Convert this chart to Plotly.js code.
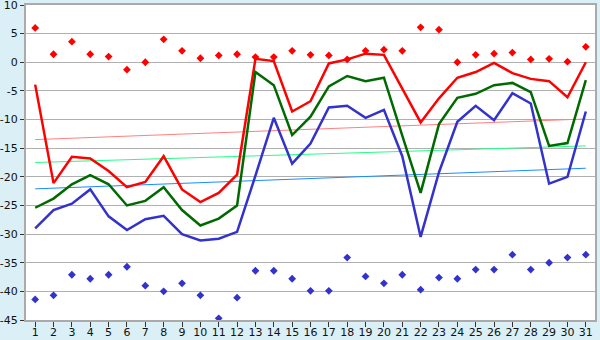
<!DOCTYPE html>
<html>
<head>
<meta charset="utf-8">
<script src="https://cdn.plot.ly/plotly-3.0.1.min.js"></script>
<style>html,body{margin:0;padding:0;background:#daeff6;}#chart{width:600px;height:340px;}</style>
</head>
<body>
<div id="chart"></div>
<script>
const days = Array.from({length: 31}, (_, i) => i + 1);
const redLine = [-3.9, -21.1, -16.5, -16.8, -19.0, -21.8, -20.9, -16.4, -22.2, -24.4, -22.8, -19.6, 0.6, 0.2, -8.6, -6.8, -0.2, 0.5, 1.5, 1.3, -4.6, -10.5, -6.3, -2.7, -1.7, -0.1, -1.9, -2.9, -3.3, -6.1, 0.0];
const greenLine = [-25.4, -23.8, -21.3, -19.7, -21.3, -25.0, -24.2, -21.8, -25.8, -28.5, -27.3, -25.0, -1.7, -4.0, -12.7, -9.5, -4.2, -2.4, -3.3, -2.7, -12.8, -22.8, -10.8, -6.2, -5.5, -4.0, -3.6, -5.2, -14.6, -14.1, -3.1];
const blueLine = [-29.0, -25.8, -24.7, -22.2, -26.9, -29.3, -27.4, -26.8, -30.0, -31.1, -30.8, -29.6, -19.8, -9.7, -17.7, -14.2, -7.9, -7.6, -9.7, -8.3, -16.4, -30.5, -19.2, -10.4, -7.6, -10.1, -5.4, -7.2, -21.2, -20.0, -8.6];
const redMarks = [6.0, 1.4, 3.6, 1.4, 1.0, -1.3, 0.0, 4.0, 2.0, 0.7, 1.2, 1.4, 0.9, 0.9, 2.0, 1.3, 1.2, 0.5, 2.0, 2.2, 2.0, 6.1, 5.7, 0.0, 1.3, 1.5, 1.7, 0.5, 0.6, 0.1, 2.7];
const blueMarks = [-41.4, -40.7, -37.1, -37.8, -37.1, -35.7, -39.0, -40.0, -38.6, -40.7, -44.7, -41.1, -36.4, -36.4, -37.8, -39.9, -39.9, -34.1, -37.4, -38.6, -37.1, -39.7, -37.6, -37.8, -36.2, -36.2, -33.6, -36.2, -35.0, -34.1, -33.6];
const trendDays = [1, 31];
const redTrend = [-13.5, -9.9];
const greenTrend = [-17.5, -14.6];
const blueTrend = [-22.1, -18.5];
const yTicks = [10, 5, 0, -5, -10, -15, -20, -25, -30, -35, -40, -45];

const traces = [
  {x: trendDays, y: redTrend, mode: 'lines', line: {color: '#ff8080', width: 1}},
  {x: trendDays, y: greenTrend, mode: 'lines', line: {color: '#22ff88', width: 1}},
  {x: trendDays, y: blueTrend, mode: 'lines', line: {color: '#1a8cff', width: 1}},
  {x: days, y: redLine, mode: 'lines', line: {color: '#ff0000', width: 2.5}},
  {x: days, y: greenLine, mode: 'lines', line: {color: '#006a00', width: 2.5}},
  {x: days, y: blueLine, mode: 'lines', line: {color: '#3333cc', width: 2.5}},
  {x: days, y: redMarks, mode: 'markers', marker: {color: '#ff0000', symbol: 'diamond', size: 6}},
  {x: days, y: blueMarks, mode: 'markers', marker: {color: '#3333cc', symbol: 'diamond', size: 6}}
];

const layout = {
  width: 600, height: 340,
  margin: {l: 26, r: 5, t: 5, b: 20, pad: 0},
  paper_bgcolor: '#daeff6',
  plot_bgcolor: '#ffffff',
  showlegend: false,
  font: {family: 'DejaVu Sans, Verdana, sans-serif', size: 11, color: '#111'},
  xaxis: {
    range: [0.5, 31.5], tickvals: days, ticktext: days.map(String),
    showgrid: false, zeroline: false,
    showline: true, linecolor: '#aaaaaa', linewidth: 2, mirror: true,
    ticks: 'outside', ticklen: 5, tickcolor: '#333', tickwidth: 1,
    ticklabelstandoff: -4, ticklabeloverflow: 'allow',
    tickfont: {size: 11}
  },
  yaxis: {
    range: [-45, 10], tickvals: yTicks, ticktext: yTicks.map(String),
    showgrid: true, gridcolor: '#b0b0b0', gridwidth: 1, zeroline: false,
    showline: true, linecolor: '#aaaaaa', linewidth: 2, mirror: true,
    ticks: 'outside', ticklen: 4, tickcolor: '#333', tickwidth: 1,
    ticklabeloverflow: 'allow',
    tickfont: {size: 11}
  }
};

Plotly.newPlot('chart', traces, layout, {displayModeBar: false, staticPlot: true});
</script>
</body>
</html>
